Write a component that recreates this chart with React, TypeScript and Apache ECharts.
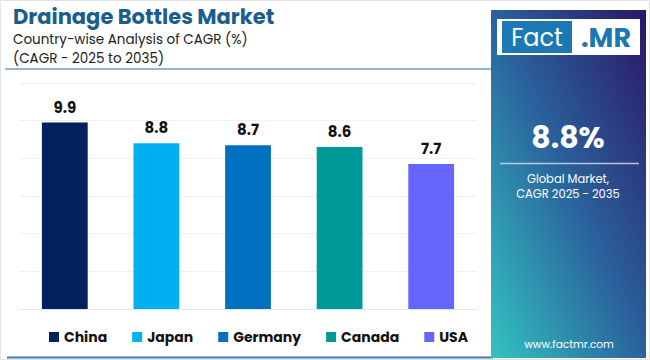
import React, { useEffect, useRef } from "react";
import * as echarts from "echarts";

const categories = ["China", "Japan", "Germany", "Canada", "USA"];
const values = [9.9, 8.8, 8.7, 8.6, 7.7];
const colors = ["#03215f", "#00b0f0", "#0070c0", "#009999", "#6666ff"];
const yTicks = { min: 0, max: 12, interval: 2 };
const titleText = "Drainage Bottles Market";
const subtitle1 = "Country-wise Analysis of CAGR (%)";
const subtitle2 = "(CAGR - 2025 to 2035)";
const globalValue = "8.8%";
const globalLabel1 = "Global Market,";
const globalLabel2 = "CAGR 2025 - 2035";
const site = "www.factmr.com";

const FONT = "Poppins, Inter, 'Noto Sans', sans-serif";

export default function App() {
  const ref = useRef<HTMLDivElement>(null);
  useEffect(() => {
    if (!ref.current) return;
    const chart = echarts.init(ref.current, null, { renderer: "svg" });
    const series = categories.map((name, i) => ({
      name,
      type: "bar",
      stack: "all",
      barWidth: "50%",
      itemStyle: { color: colors[i] },
      label: {
        show: true,
        position: "top",
        distance: 8,
        color: "#111",
        fontWeight: "bold",
        fontSize: 15,
        fontFamily: FONT,
      },
      data: categories.map((_, j) => (j === i ? values[i] : "-")),
    }));
    chart.setOption({
      animation: false,
      textStyle: { fontFamily: FONT },
      grid: { left: 19, right: 173, top: 83, bottom: 51 },
      xAxis: {
        type: "category",
        data: categories,
        axisLine: { lineStyle: { color: "#e3e6ea" } },
        axisTick: { show: false },
        axisLabel: { show: false },
      },
      yAxis: {
        type: "value",
        min: yTicks.min,
        max: yTicks.max,
        interval: yTicks.interval,
        axisLabel: { show: false },
        axisLine: { show: false },
        axisTick: { show: false },
        splitLine: { lineStyle: { color: "#eef0f3" } },
      },
      legend: {
        data: categories,
        left: 44,
        top: 325,
        itemWidth: 10,
        itemHeight: 10,
        itemGap: 25,
        icon: "rect",
        textStyle: { fontSize: 14, fontWeight: "bold", color: "#111", fontFamily: FONT },
      },
      series,
      graphic: [
        {
          type: "rect",
          shape: { x: 0.5, y: 0.5, width: 649, height: 359 },
          style: { fill: "none", stroke: "#e2e2e2", lineWidth: 1 },
          silent: true,
        },
        {
          type: "text",
          x: 13,
          y: 16,
          style: {
            text: titleText,
            fill: "#1b5e8e",
            font: `bold 21px ${FONT}`,
            textVerticalAlign: "middle",
          },
        },
        {
          type: "text",
          x: 13,
          y: 39,
          style: { text: subtitle1, fill: "#222", font: `13.5px ${FONT}`, textVerticalAlign: "middle" },
        },
        {
          type: "text",
          x: 13,
          y: 58,
          style: { text: subtitle2, fill: "#222", font: `13.5px ${FONT}`, textVerticalAlign: "middle" },
        },
        {
          type: "line",
          shape: { x1: 5, y1: 69, x2: 491, y2: 69 },
          style: { stroke: "#2f6f9f", lineWidth: 1.2 },
        },
        {
          type: "line",
          shape: { x1: 7, y1: 357.5, x2: 493, y2: 357.5 },
          style: { stroke: "#3d7db3", lineWidth: 2 },
        },
        {
          type: "rect",
          shape: { x: 491, y: 10, width: 155, height: 348 },
          style: {
            fill: new echarts.graphic.LinearGradient(0, 1, 1, 0, [
              { offset: 0, color: "#33c3c2" },
              { offset: 0.5, color: "#2a629c" },
              { offset: 1, color: "#2c1665" },
            ]),
          },
        },
        {
          type: "rect",
          shape: { x: 497, y: 19, width: 143, height: 36 },
          style: { fill: "#ffffff" },
        },
        {
          type: "rect",
          shape: { x: 502, y: 21, width: 70, height: 32 },
          style: { fill: "#1b78b2" },
        },
        {
          type: "text",
          x: 537,
          y: 37,
          style: {
            text: "Fact",
            fill: "#fff",
            font: `24px ${FONT}`,
            textAlign: "center",
            textVerticalAlign: "middle",
          },
        },
        {
          type: "text",
          x: 606,
          y: 37,
          style: {
            text: ".MR",
            fill: "#1b78b2",
            font: `bold 27px ${FONT}`,
            textAlign: "center",
            textVerticalAlign: "middle",
          },
        },
        {
          type: "text",
          x: 568,
          y: 137,
          style: {
            text: globalValue,
            fill: "#fff",
            font: `bold 30px ${FONT}`,
            textAlign: "center",
            textVerticalAlign: "middle",
          },
        },
        {
          type: "line",
          shape: { x1: 500, y1: 163.5, x2: 639, y2: 163.5 },
          style: { stroke: "rgba(220,225,245,0.8)", lineWidth: 1.5 },
        },
        {
          type: "text",
          x: 568,
          y: 179,
          style: {
            text: globalLabel1,
            fill: "#fff",
            font: `11.5px ${FONT}`,
            textAlign: "center",
            textVerticalAlign: "middle",
          },
        },
        {
          type: "text",
          x: 568,
          y: 194,
          style: {
            text: globalLabel2,
            fill: "#fff",
            font: `11.5px ${FONT}`,
            textAlign: "center",
            textVerticalAlign: "middle",
          },
        },
        {
          type: "text",
          x: 569,
          y: 344,
          style: {
            text: site,
            fill: "#fff",
            font: `10.5px ${FONT}`,
            textAlign: "center",
            textVerticalAlign: "middle",
          },
        },
      ],
    });
    return () => chart.dispose();
  }, []);
  return (
    <div
      ref={ref}
      style={{ position: "fixed", left: 0, top: 0, width: 650, height: 360, background: "#fff" }}
    />
  );
}
